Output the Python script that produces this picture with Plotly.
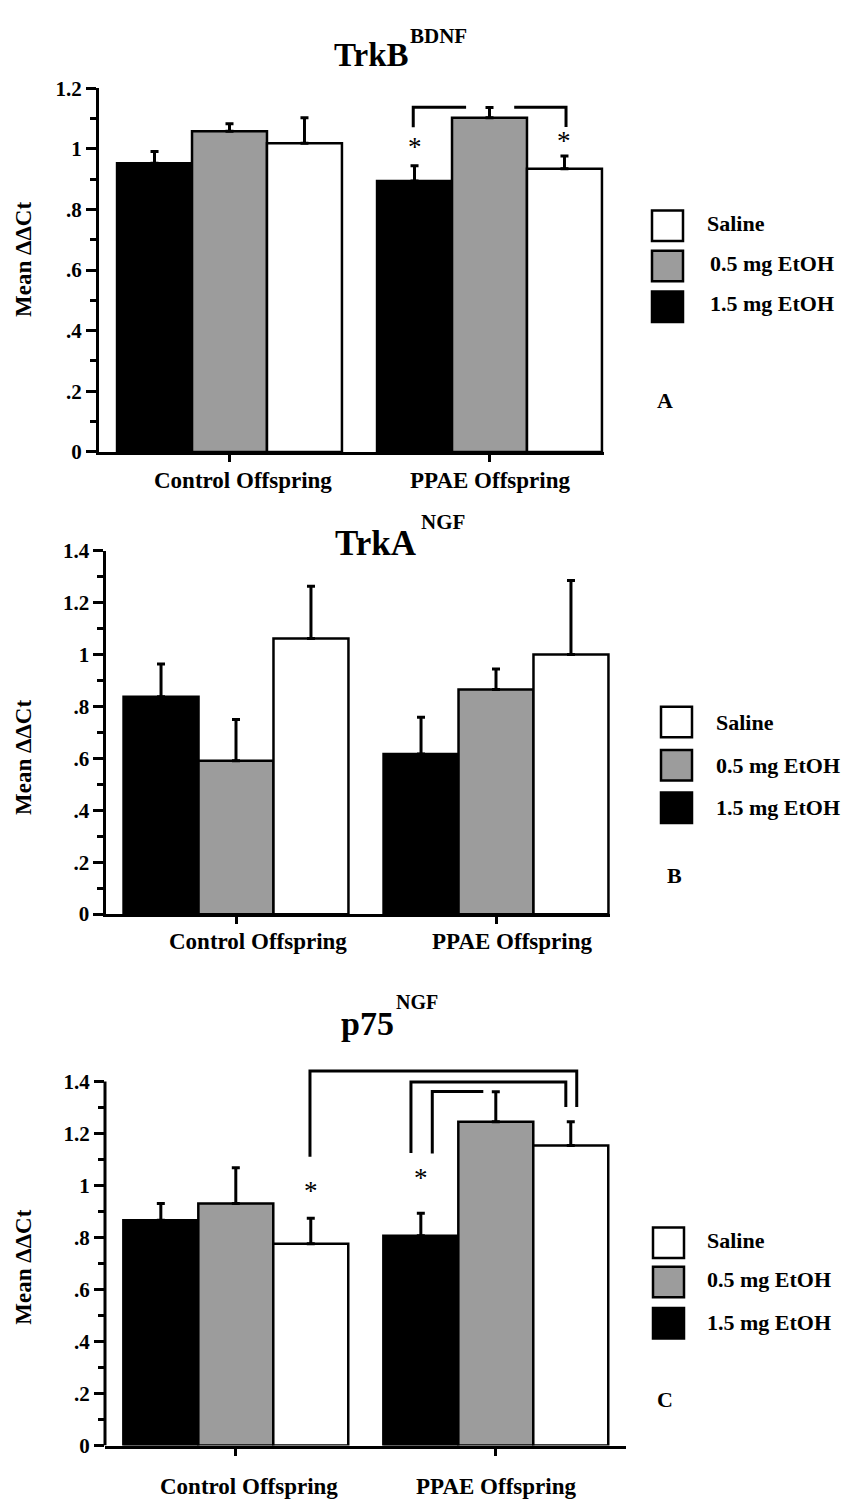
import plotly.graph_objects as go

W, H = 846, 1511
FONT = "Liberation Serif"

# ---------------- data ----------------
groups = ["Control Offspring", "PPAE Offspring"]
series_names = ["1.5 mg EtOH", "0.5 mg EtOH", "Saline"]
series_colors = ["#000000", "#9c9c9c", "#ffffff"]
legend_names = ["Saline", "0.5 mg EtOH", "1.5 mg EtOH"]
legend_colors = ["#ffffff", "#9c9c9c", "#000000"]

panel_titles = ["TrkB", "TrkA", "p75"]
panel_supers = ["BDNF", "NGF", "NGF"]
panel_letters = ["A", "B", "C"]

# Panel A: TrkB (BDNF)   values = [Control, PPAE]
trkb_15 = [0.952, 0.894]
trkb_15_sem = [0.039, 0.050]
trkb_05 = [1.058, 1.102]
trkb_05_sem = [0.025, 0.034]
trkb_sal = [1.018, 0.934]
trkb_sal_sem = [0.084, 0.042]

# Panel B: TrkA (NGF)
trka_15 = [0.837, 0.617]
trka_15_sem = [0.126, 0.141]
trka_05 = [0.591, 0.865]
trka_05_sem = [0.158, 0.079]
trka_sal = [1.061, 1.000]
trka_sal_sem = [0.202, 0.285]

# Panel C: p75 (NGF)
p75_15 = [0.866, 0.807]
p75_15_sem = [0.065, 0.086]
p75_05 = [0.931, 1.245]
p75_05_sem = [0.137, 0.115]
p75_sal = [0.776, 1.154]
p75_sal_sem = [0.098, 0.091]

y_ticks_a = [0, 0.2, 0.4, 0.6, 0.8, 1.0, 1.2]
y_ticktext_a = ["0", ".2", ".4", ".6", ".8", "1", "1.2"]
y_ticks_bc = [0, 0.2, 0.4, 0.6, 0.8, 1.0, 1.2, 1.4]
y_ticktext_bc = ["0", ".2", ".4", ".6", ".8", "1", "1.2", "1.4"]
y_minor_a = [0.1, 0.3, 0.5, 0.7, 0.9, 1.1]
y_minor_bc = [0.1, 0.3, 0.5, 0.7, 0.9, 1.1, 1.3]

panel_means = [
    [trkb_15, trkb_05, trkb_sal],
    [trka_15, trka_05, trka_sal],
    [p75_15, p75_05, p75_sal],
]
panel_sems = [
    [trkb_15_sem, trkb_05_sem, trkb_sal_sem],
    [trka_15_sem, trka_05_sem, trka_sal_sem],
    [p75_15_sem, p75_05_sem, p75_sal_sem],
]

# significance markers: (group index, series index, y of star)
stars_a = [(1, 0, 1.024), (1, 2, 1.042)]
stars_c = [(0, 2, 0.997), (1, 0, 1.047)]
# bracket polylines: list of points (group, series, x-offset, y)
brackets_a = [
    [(1, 0, -0.005, 1.071), (1, 0, -0.005, 1.137), (1, 1, -0.09, 1.137)],
    [(1, 1, 0.095, 1.137), (1, 2, 0.006, 1.137), (1, 2, 0.006, 1.072)],
]
brackets_c = [
    [(0, 2, -0.003, 1.110), (0, 2, -0.003, 1.440), (1, 2, 0.023, 1.440), (1, 2, 0.023, 1.302)],
    [(1, 0, -0.038, 1.125), (1, 0, -0.038, 1.398), (1, 2, -0.019, 1.398), (1, 2, -0.019, 1.302)],
    [(1, 0, 0.044, 1.123), (1, 0, 0.044, 1.361), (1, 1, -0.048, 1.361)],
]

# ---------------- layout geometry (pixels) ----------------
BARGAP = 0.135
BW = (1 - BARGAP) / 3.0
panels = [
    dict(L=99, R=604, c0=229.5, s=260, y0=447, unit=308, ymax=1.2, axtop=1.2,
         ticks=y_ticks_a, ticktext=y_ticktext_a, minor=y_minor_a,
         title_main=(331.7, 43.9, 33), title_sup=(408, 24.6, 21),
         ylab_y=252, xlab_y=476, xlab_off=[0.052, 0.002],
         leg_x=652, leg_tops=[201.7, 242.7, 284], leg_tx=[705, 707.5, 707.5],
         leg_ty=[215.3, 255.9, 296.6], letter=(664.5, 395),
         stars=stars_a, brackets=brackets_a),
    dict(L=106.4, R=610, c0=236, s=260, y0=916.7, unit=263.9, ymax=1.4, axtop=1.4,
         ticks=y_ticks_bc, ticktext=y_ticktext_bc, minor=y_minor_bc,
         title_main=(333.3, 539.9, 35), title_sup=(419.3, 517.9, 21),
         ylab_y=758, xlab_y=945, xlab_off=[0.085, 0.062],
         leg_x=661, leg_tops=[706, 750, 793], leg_tx=[714, 714, 714],
         leg_ty=[722, 766, 808], letter=(674, 877),
         stars=[], brackets=[]),
    dict(L=105, R=626, c0=235.8, s=260, y0=1456.7, unit=264.3, ymax=1.45, axtop=1.4,
         ticks=y_ticks_bc, ticktext=y_ticktext_bc, minor=y_minor_bc,
         title_main=(339, 1027.5, 34), title_sup=(394, 1006.3, 20),
         ylab_y=1276, xlab_y=1498, xlab_off=[0.05, 0.0],
         leg_x=653, leg_tops=[1235, 1275, 1317], leg_tx=[705, 705, 705],
         leg_ty=[1248, 1288, 1331.7], letter=(665, 1410),
         stars=stars_c, brackets=brackets_c),
]


def pxx(p):
    return p / W


def pxy(p):
    return 1 - p / H


def bar_x(g, si):
    return g + (si - 1) * BW


fig = go.Figure()
shapes = []
annotations = []
bold = dict(family=FONT, size=22, color="black", weight="bold")

for pi, P in enumerate(panels):
    sfx = "" if pi == 0 else str(pi + 1)
    xa, ya = "x" + sfx, "y" + sfx
    for si in range(3):
        fig.add_trace(go.Bar(
            x=list(range(len(groups))), y=panel_means[pi][si], name=series_names[si],
            xaxis=xa, yaxis=ya, showlegend=False,
            marker=dict(color=series_colors[si], line=dict(color="black", width=2.5)),
            error_y=dict(type="data", array=panel_sems[pi][si],
                         arrayminus=[0] * len(groups), symmetric=False,
                         color="black", thickness=3, width=4),
        ))
    xr = [(P["L"] - P["c0"]) / P["s"], (P["R"] - P["c0"]) / P["s"]]
    ytop_pix = P["y0"] - P["ymax"] * P["unit"]
    fig.update_layout(**{
        "xaxis" + sfx: dict(domain=[pxx(P["L"]), pxx(P["R"])], range=xr, type="linear",
                            tickvals=list(range(len(groups))), showticklabels=False,
                            ticks="outside", ticklen=7, tickwidth=3, tickcolor="black",
                            showline=True, linewidth=3, linecolor="black",
                            showgrid=False, zeroline=False, anchor=ya, fixedrange=True),
        "yaxis" + sfx: dict(domain=[pxy(P["y0"]), pxy(ytop_pix)], range=[0, P["ymax"]],
                            tickmode="array", tickvals=P["ticks"], ticktext=P["ticktext"],
                            ticks="outside", ticklen=10, tickwidth=3, tickcolor="black",
                            minor=dict(tickvals=P["minor"], ticks="outside", ticklen=6,
                                       tickwidth=2.5, tickcolor="black"),
                            tickfont=dict(family=FONT, size=21, color="black", weight="bold"),
                            showline=(P["axtop"] == P["ymax"]), linewidth=3, linecolor="black",
                            showgrid=False, zeroline=False, anchor=xa, fixedrange=True),
    })
    if P["axtop"] != P["ymax"]:
        shapes.append(dict(type="line", xref=xa + " domain", yref=ya, x0=0, x1=0,
                           y0=0, y1=P["axtop"], line=dict(color="black", width=3)))
    # titles
    tx, ty, tfs = P["title_main"]
    annotations.append(dict(text=panel_titles[pi], xref="paper", yref="paper",
                            x=pxx(tx), y=pxy(ty), xanchor="left", yanchor="middle",
                            showarrow=False, font=dict(family=FONT, size=tfs, color="black", weight="bold")))
    sx, sy, sfs = P["title_sup"]
    annotations.append(dict(text=panel_supers[pi], xref="paper", yref="paper",
                            x=pxx(sx), y=pxy(sy), xanchor="left", yanchor="middle",
                            showarrow=False, font=dict(family=FONT, size=sfs, color="black", weight="bold")))
    # y axis title
    annotations.append(dict(text="Mean \u0394\u0394Ct", xref="paper", yref="paper",
                            x=pxx(24), y=pxy(P["ylab_y"]), xanchor="center", yanchor="middle",
                            textangle=-90, showarrow=False,
                            font=dict(family=FONT, size=23, color="black", weight="bold")))
    # category labels
    for gi, g in enumerate(groups):
        annotations.append(dict(text=g, xref=xa, yref="paper", x=gi + P["xlab_off"][gi],
                                y=pxy(P["xlab_y"]), xanchor="center", yanchor="middle",
                                showarrow=False,
                                font=dict(family=FONT, size=23, color="black", weight="bold")))
    # legend (manual)
    for li in range(3):
        t = P["leg_tops"][li]
        shapes.append(dict(type="rect", xref="paper", yref="paper",
                           x0=pxx(P["leg_x"]), x1=pxx(P["leg_x"] + 31),
                           y0=pxy(t + 31), y1=pxy(t),
                           fillcolor=legend_colors[li], line=dict(color="black", width=2.5)))
        annotations.append(dict(text=legend_names[li], xref="paper", yref="paper",
                                x=pxx(P["leg_tx"][li]), y=pxy(P["leg_ty"][li]),
                                xanchor="left", yanchor="middle", showarrow=False,
                                font=bold))
    lx, ly = P["letter"]
    annotations.append(dict(text=panel_letters[pi], xref="paper", yref="paper",
                            x=pxx(lx), y=pxy(ly), xanchor="center", yanchor="middle",
                            showarrow=False, font=bold))
    # stars
    for (g, si, yv) in P["stars"]:
        annotations.append(dict(text="*", xref=xa, yref=ya, x=bar_x(g, si), y=yv,
                                xanchor="center", yanchor="middle", yshift=-5, showarrow=False,
                                font=dict(family=FONT, size=27, color="black")))
    # brackets
    for br in P["brackets"]:
        pts = [(bar_x(g, si) + off, yv) for (g, si, off, yv) in br]
        path = "M " + " L ".join(f"{x:.4f},{y:.4f}" for x, y in pts)
        shapes.append(dict(type="path", xref=xa, yref=ya, path=path,
                           line=dict(color="black", width=3)))

fig.update_layout(
    width=W, height=H, margin=dict(l=0, r=0, t=0, b=0),
    paper_bgcolor="white", plot_bgcolor="white",
    barmode="group", bargap=BARGAP, bargroupgap=0,
    shapes=shapes, annotations=annotations, showlegend=False,
)

fig.write_html("out.html", include_plotlyjs=True, config={"displayModeBar": False},
               post_script="document.body.style.margin='0px';document.body.style.overflow='hidden';")
